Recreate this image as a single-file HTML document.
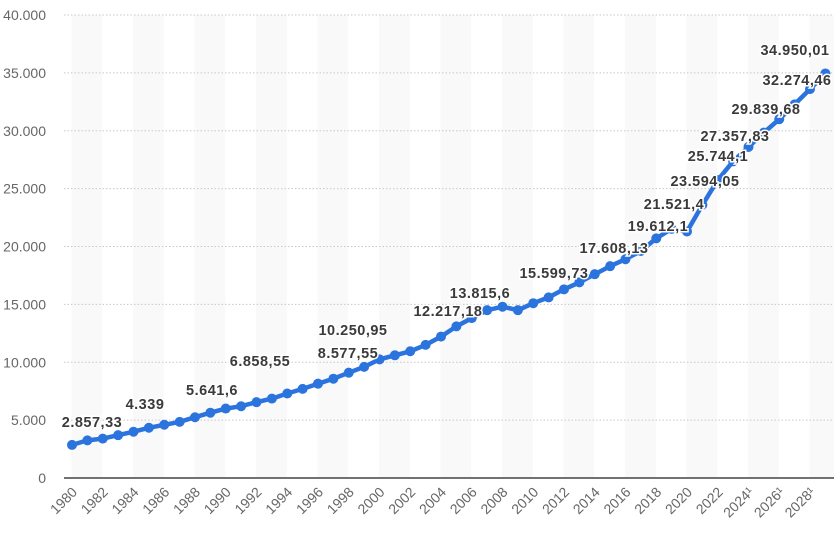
<!DOCTYPE html>
<html><head><meta charset="utf-8"><style>
body{margin:0;background:#fff;width:834px;height:545px;overflow:hidden;font-family:"Liberation Sans",sans-serif}
</style></head><body>
<svg id="c" width="834" height="545" xmlns="http://www.w3.org/2000/svg" font-family="Liberation Sans, sans-serif"></svg>
<script>
const s=document.getElementById('c');let h='';
const X=y=>72+(y-1980)*15.375, Y=v=>478-v*0.011575;
for(let i=0;i<25;i+=2){const x=71.5+i*30.75;h+=`<rect x="${x}" y="15" width="30.75" height="463" fill="#f9f9f9"/>`;}
for(let k=1;k<=8;k++){const y=Y(k*5000);h+=`<line x1="64" x2="834" y1="${y}" y2="${y}" stroke="#c8c8c8" stroke-dasharray="1.5,2"/>`;}
for(let k=0;k<=8;k++){h+=`<text x="46" y="${Y(k*5000)+5}" text-anchor="end" font-size="14" fill="#666">${k==0?'0':(k*5)+'.000'}</text>`;}
h+=`<line x1="64" x2="834" y1="478" y2="478" stroke="#444" stroke-width="1.5"/>`;
for(let yr=1980;yr<=2028;yr+=2){const x=X(yr);h+=`<text transform="translate(${x+6},${493}) rotate(-45)" text-anchor="end" font-size="14" fill="#666">${yr}${yr>=2024?'¹':''}</text>`;}
const d=[2857,3250,3400,3700,4000,4339,4600,4850,5250,5642,6000,6200,6550,6858,7300,7700,8150,8577,9100,9600,10250,10600,10950,11500,12217,13100,13816,14500,14800,14500,15100,15600,16300,16900,17608,18300,18900,19612,20700,21521,21300,23594,25744,27358,28600,29840,31000,32274,33600,34950];
let p=d.map((v,i)=>X(1980+i).toFixed(1)+','+Y(v).toFixed(1)).join(' ');
h+=`<polyline points="${p}" fill="none" stroke="#2b74de" stroke-width="4.5" stroke-linejoin="round"/>`;
d.forEach((v,i)=>{h+=`<circle cx="${X(1980+i)}" cy="${Y(v)}" r="5" fill="#2b74de"/>`;});
const L=[["2.857,33",92,427],["4.339",145,409],["5.641,6",212,395],["6.858,55",260,366],["8.577,55",348,358],["10.250,95",353,335],["12.217,18",448,316],["13.815,6",480,298],["15.599,73",554,278],["17.608,13",614,253],["19.612,1",658,231],["21.521,4",674,209],["23.594,05",705,186],["25.744,1",718,161],["27.357,83",735,141],["29.839,68",766,114],["32.274,46",797,85],["34.950,01",795,55]];
L.forEach(([t,x,y])=>{h+=`<text x="${x}" y="${y}" text-anchor="middle" font-size="14.5" font-weight="bold" fill="#3a3a3a" stroke="#fff" stroke-width="3" paint-order="stroke" letter-spacing="0.5">${t}</text>`;});
s.innerHTML=h;
</script>
</body></html>
